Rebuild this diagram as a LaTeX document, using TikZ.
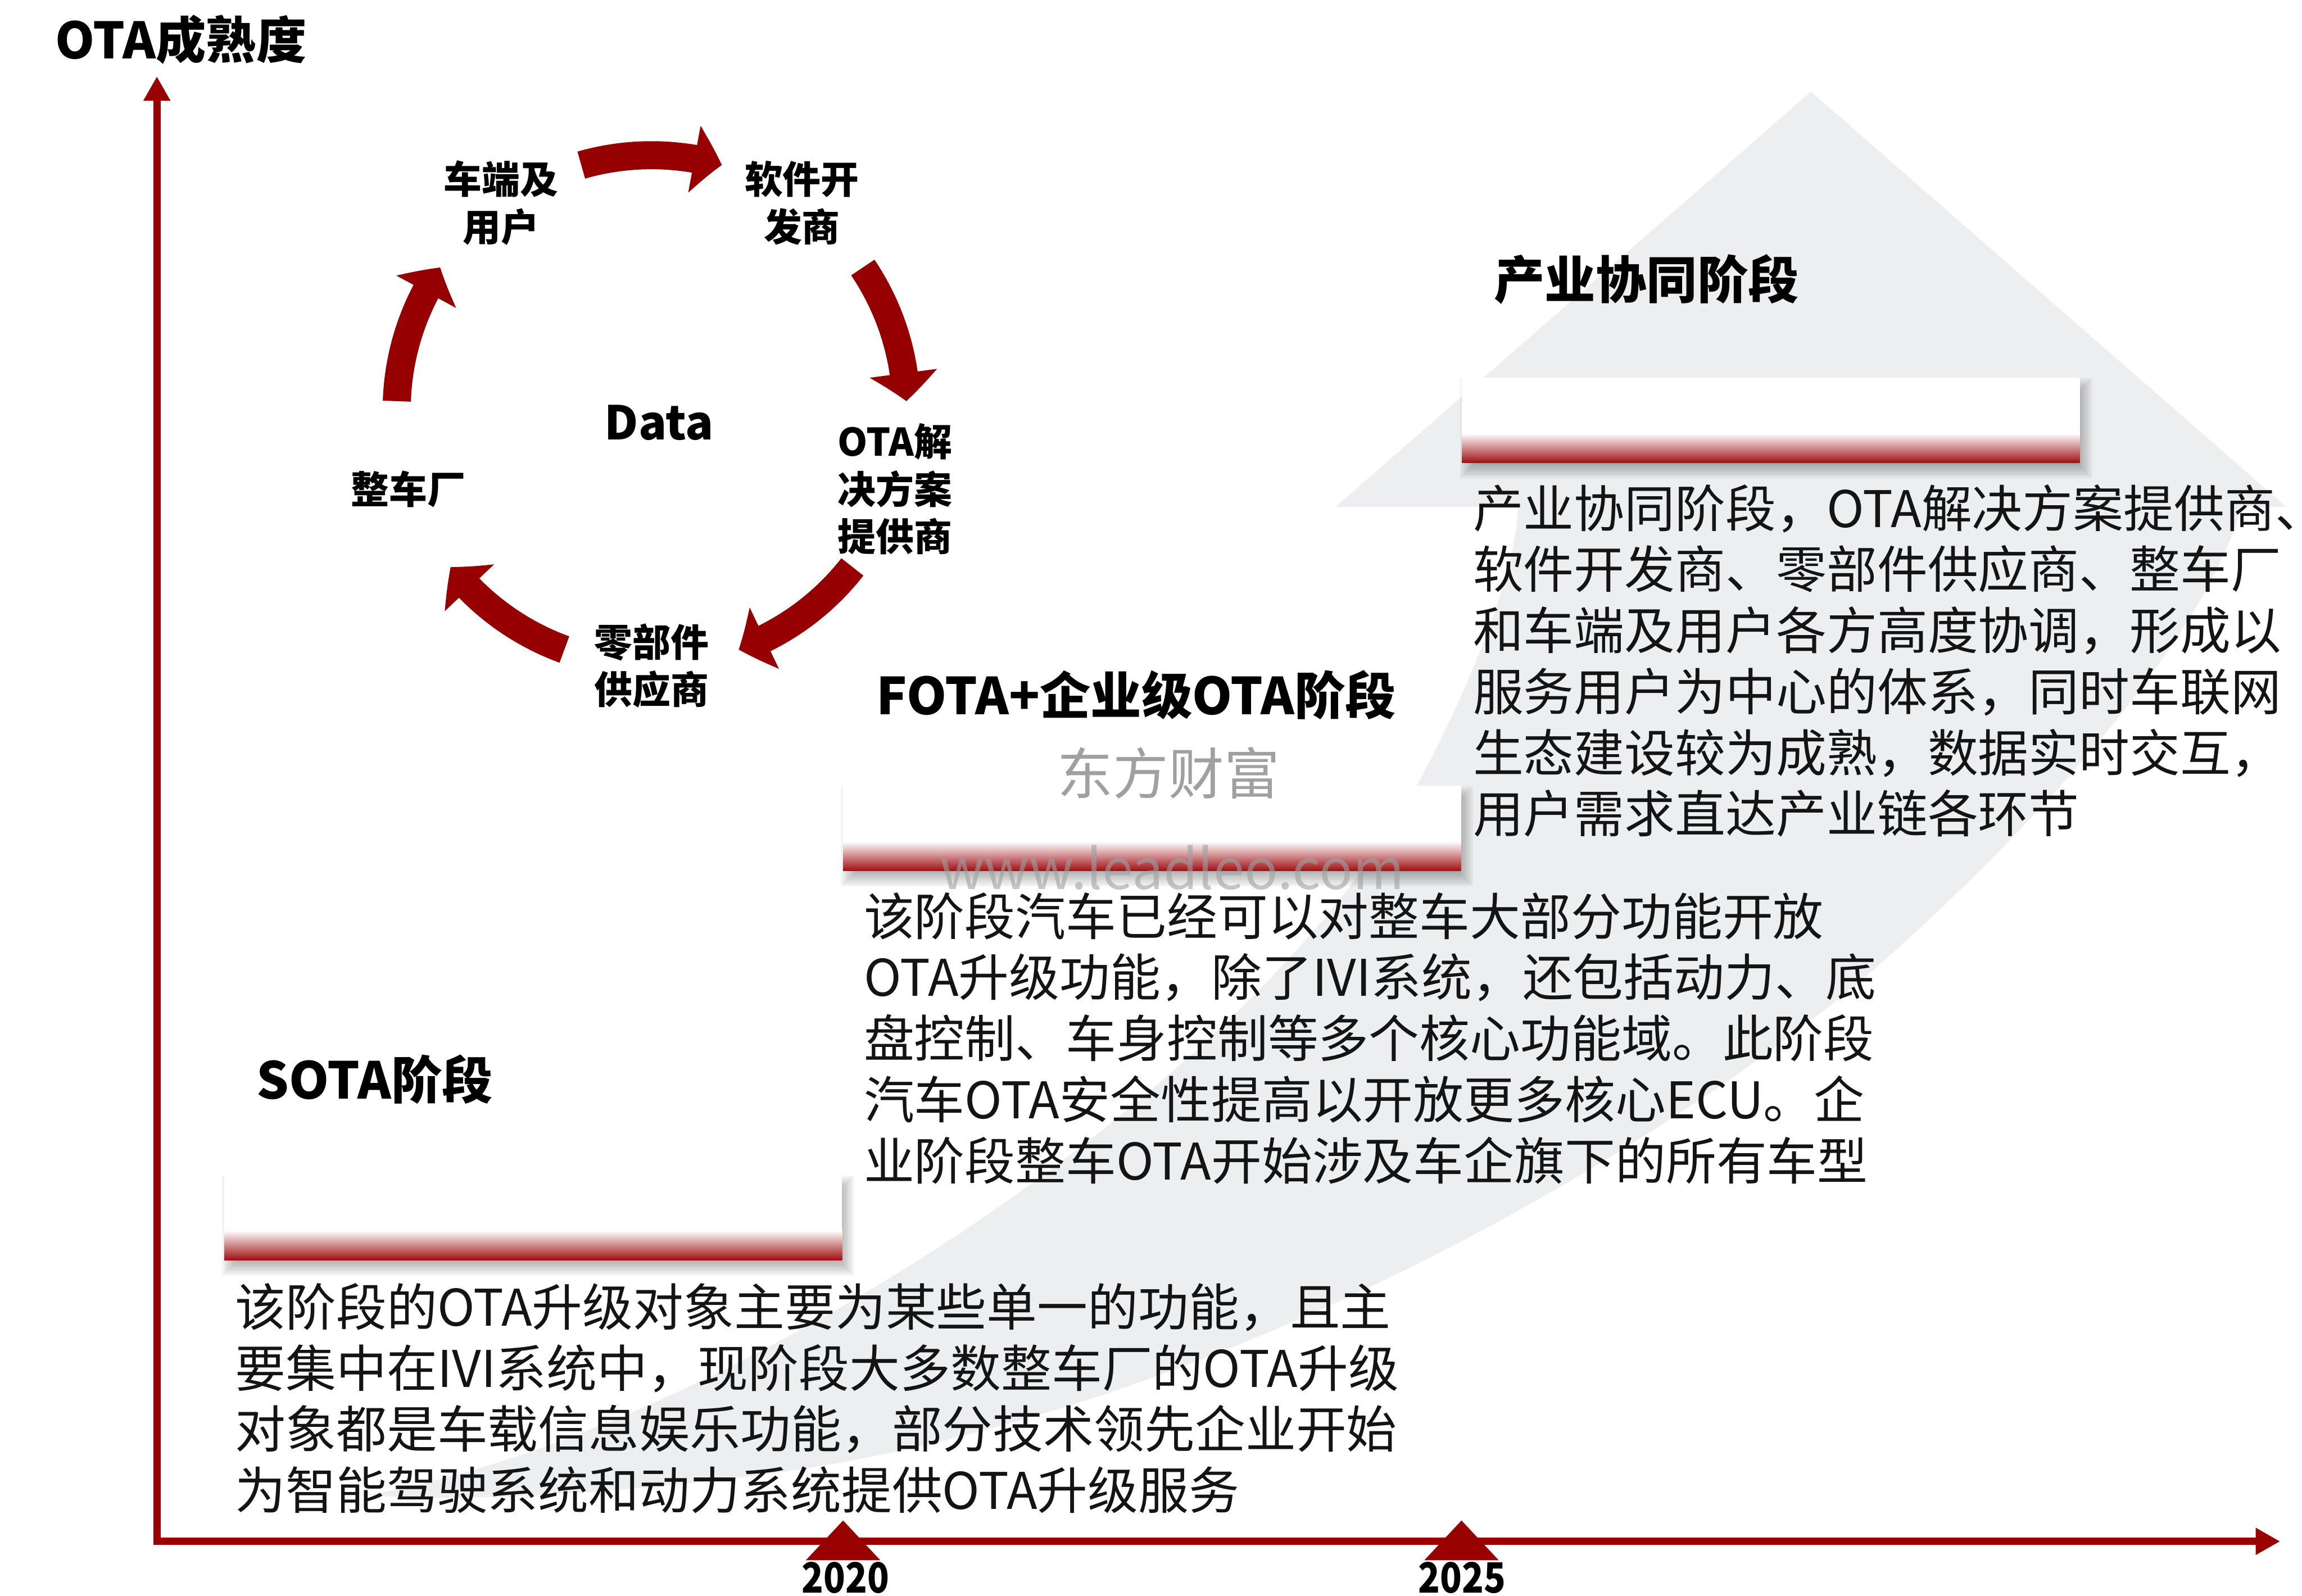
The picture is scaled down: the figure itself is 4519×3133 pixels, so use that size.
\documentclass[tikz,border=0pt]{standalone}
\usepackage{fontspec}
\setmainfont{Noto Sans CJK SC}
\usetikzlibrary{arrows.meta,bending,calc}
\definecolor{axred}{RGB}{153,0,0}
\definecolor{arrred}{RGB}{150,0,0}
\definecolor{barred}{RGB}{158,14,18}
\definecolor{bggray}{RGB}{237,238,240}
\definecolor{wmgray}{RGB}{160,160,160}
\begin{document}
\begin{tikzpicture}[x=0.01cm,y=-0.01cm,
  bodytext/.style={anchor=base west, inner sep=0pt, text=black!92, font=\fontsize{28.2pt}{34pt}\selectfont},
  stagetitle/.style={anchor=base west, inner sep=0pt, font=\bfseries\fontsize{28.4pt}{34pt}\selectfont},
  cyclelabel/.style={align=center, inner sep=0pt, font=\bfseries\fontsize{21.3pt}{26.5pt}\selectfont},
  cyclearrow/.style={draw=arrred, line width=0.55cm, -{Triangle[width=1.3cm,length=0.55cm,bend]}},
  cycleshadow/.style={draw=black, opacity=0.18, line width=0.55cm, -{Triangle[width=1.3cm,length=0.55cm,bend]}},
  axisline/.style={draw=axred, line width=0.14cm, -{Triangle[width=0.5cm,length=0.48cm]}},
  yearmark/.style={fill=axred},
  yearlabel/.style={anchor=base, inner sep=0pt, font=\bfseries\fontsize{23.3pt}{28pt}\selectfont},
  watermark/.style={inner sep=0pt, text=wmgray}
]
\useasboundingbox (0,0) rectangle (4519,3133);

% background swoosh arrow
\fill[bggray] (720,2935) .. controls (1400,2820) and (2450,2150) .. (2783,1539)
  .. controls (2855,1407) and (2975,1150) .. (2980,995)
  -- (2622,995) -- (3555,180) -- (4488,995) -- (4400,995)
  .. controls (4330,1250) and (4000,1620) .. (3689,1894)
  .. controls (3389,2158) and (2500,2760) .. (1500,2895)
  .. controls (1100,2945) and (850,2945) .. (720,2935) -- cycle;

% axes
\coordinate (origin) at (308,3026);
\coordinate (ytop) at (308,150);
\coordinate (xstart) at (301,3026);
\coordinate (xend) at (4476,3026);
\draw[axisline] (origin) -- (ytop);
\draw[axisline] (xstart) -- (xend);
\node[anchor=base west, inner sep=0pt, font=\bfseries\fontsize{28pt}{32pt}\selectfont] (ytitle) at (108,115) {OTA成熟度};

% year markers
\fill[yearmark] (1655,2985) -- (1728,3063) -- (1582,3063) -- cycle;
\fill[yearmark] (2869,2985) -- (2942,3063) -- (2796,3063) -- cycle;
\node[yearlabel] (y2020) at (1660,3127) {\scalebox{0.86}[1]{2020}};
\node[yearlabel] (y2025) at (2870,3127) {\scalebox{0.86}[1]{2025}};

% stage bars
\foreach \bx/\by in {440/2306,1655/1542,2870/741}{
  \foreach \s in {0,4,...,28}
    \fill[black,opacity=0.045] ({\bx+24-\s},{\by+30-\s}) rectangle ({\bx+1209+\s},{\by+170+\s});
  \fill[white] (\bx,\by) rectangle ({\bx+1213},{\by+168});
  \shade[top color=white,bottom color=barred] (\bx,{\by+110}) rectangle ({\bx+1213},{\by+168});
}

% stage titles
\node[stagetitle] (t1) at (503,2157) {SOTA阶段};
\node[stagetitle] (t2) at (1720,1403) {FOTA+企业级OTA阶段};
\node[stagetitle] (t3) at (2932,586) {产业协同阶段};

% body texts
\foreach \txt [count=\k from 0] in {
  该阶段的OTA升级对象主要为某些单一的功能，且主,
  要集中在IVI系统中，现阶段大多数整车厂的OTA升级,
  对象都是车载信息娱乐功能，部分技术领先企业开始,
  为智能驾驶系统和动力系统提供OTA升级服务}
  \node[bodytext] (sb\k) at (461,{2603+120*\k}) {\txt};
\foreach \txt [count=\k from 0] in {
  该阶段汽车已经可以对整车大部分功能开放,
  OTA升级功能，除了IVI系统，还包括动力、底,
  盘控制、车身控制等多个核心功能域。此阶段,
  汽车OTA安全性提高以开放更多核心ECU。企,
  业阶段整车OTA开始涉及车企旗下的所有车型}
  \node[bodytext] (fb\k) at (1695,{1836+120*\k}) {\txt};
\foreach \txt [count=\k from 0] in {
  产业协同阶段，OTA解决方案提供商、,
  软件开发商、零部件供应商、整车厂,
  和车端及用户各方高度协调，形成以,
  服务用户为中心的体系，同时车联网,
  生态建设较为成熟，数据实时交互，,
  用户需求直达产业链各环节}
  \node[bodytext] (ib\k) at (2891,{1035+120*\k}) {\txt};

% data cycle
\coordinate (cyc) at (1279,805);
\foreach \a in {90,18,-54,-126,162}{
  \draw[cycleshadow, xshift=0.05cm, yshift=-0.08cm] ([shift={(\a+16:5cm)}]cyc) arc[start angle=\a+16, end angle=\a-16, radius=5cm];
}
\foreach \a in {90,18,-54,-126,162}{
  \draw[cyclearrow] ([shift={(\a+16:5cm)}]cyc) arc[start angle=\a+16, end angle=\a-16, radius=5cm];
}
\node[font=\bfseries\fontsize{26pt}{30pt}\selectfont, inner sep=0pt] (data) at (1294,830) {Data};
\node[cyclelabel] (user) at ([shift={(126:5.02cm)}]cyc) {车端及\\用户};
\node[cyclelabel] (soft) at ([shift={(54:5.02cm)}]cyc) {软件开\\发商};
\node[cyclelabel] (otasol) at ([shift={(-18:5.02cm)}]cyc) {OTA解\\决方案\\提供商};
\node[cyclelabel] (parts) at ([shift={(-90:5.02cm)}]cyc) {零部件\\供应商};
\node[cyclelabel] (oem) at ([shift={(-162:5.02cm)}]cyc) {整车厂};

% watermarks
\node[watermark, font=\fontsize{31pt}{36pt}\selectfont] (wm1) at (2294,1518) {东方财富};
\node[watermark, anchor=base, opacity=0.6, font=\fontsize{31pt}{36pt}\selectfont] (wm2) at (2301,1746) {www.leadleo.com};
\end{tikzpicture}
\end{document}
